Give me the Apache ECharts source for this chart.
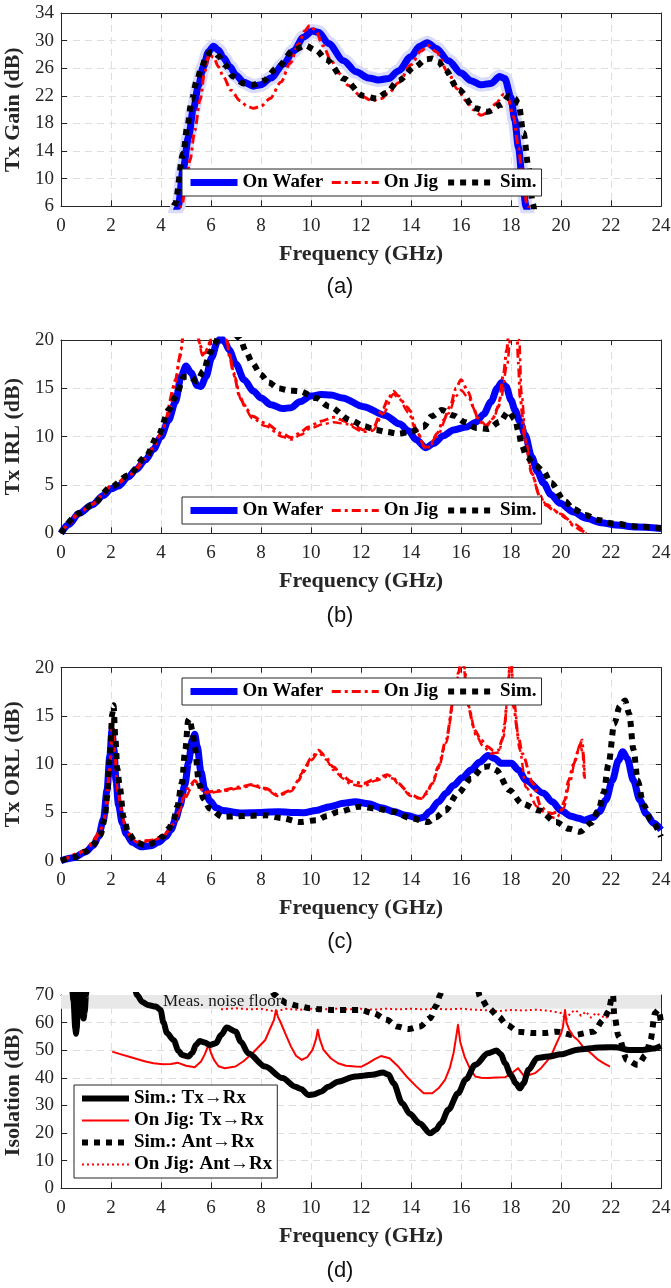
<!DOCTYPE html>
<html>
<head>
<meta charset="utf-8">
<script src="https://cdn.jsdelivr.net/npm/echarts/dist/echarts.min.js"></script>
<style>
  html, body { margin: 0; padding: 0; background: #ffffff; }
  #chart { width: 671px; height: 1288px; }
</style>
</head>
<body>
<div id="chart"></div>
<script>
// ---- Frequency axis ticks (GHz) ----
const freqTicks = { min: 0, max: 24, step: 2 };

// ---- (a) Tx Gain (dB) : [GHz, dB] ----
const gainWafer = [[4.3,1],[4.69,6],[4.89,11.5],[5.1,16],[5.29,20],[5.5,23.5],[5.69,26.2],[5.9,28.4],[6.1,29.2],[6.3,28.6],[6.5,27.5],[6.76,26.2],[7.0,25],[7.3,24],[7.7,23.4],[8.0,23.6],[8.4,24.6],[8.9,26.6],[9.3,28.5],[9.7,30.5],[10.05,31.4],[10.3,31.2],[10.7,29.6],[11.3,27.1],[11.8,25.5],[12.3,24.6],[12.7,24.3],[13.1,24.5],[13.5,25.6],[14.0,27.7],[14.35,29.2],[14.65,29.7],[15.0,28.9],[15.5,27.1],[16.0,25.3],[16.4,24.2],[16.8,23.6],[17.2,23.8],[17.55,24.8],[17.75,24.5],[18.0,21.8],[18.15,18.5],[18.3,14.5],[18.45,10],[18.6,6],[18.8,1]];
const gainJig = [[4.45,1],[4.83,6],[5.0,9.5],[5.16,12.7],[5.35,17],[5.56,21.4],[5.75,25.5],[5.92,28],[6.1,27.6],[6.3,26.2],[6.49,24.8],[6.8,22.8],[7.16,21.3],[7.45,20.5],[7.7,20.2],[8.0,20.5],[8.36,21.6],[8.8,24],[9.16,26.7],[9.5,29.5],[9.75,31.4],[9.95,32.2],[10.2,31.4],[10.47,29.3],[10.8,27.2],[11.1,25.3],[11.5,23.5],[11.96,22.1],[12.45,21.3],[12.8,21.6],[13.1,22.4],[13.5,23.9],[14.0,26.5],[14.4,28.5],[14.68,29.3],[15.0,28.4],[15.5,25.3],[15.85,23],[16.2,21.3],[16.5,20.0],[16.8,19.2],[17.1,19.6],[17.4,20.9],[17.7,22.2],[17.85,22],[18.1,19.0],[18.3,14.5],[18.44,10.8],[18.66,6],[18.9,1]];
const gainSim = [[4.2,1],[4.56,6.3],[4.89,13.7],[5.05,17.5],[5.23,21.4],[5.43,24.2],[5.63,26.2],[5.8,27.6],[5.96,28.3],[6.15,28.3],[6.29,27.8],[6.55,26.5],[6.89,24.8],[7.3,23.8],[7.7,23.6],[8.1,24.2],[8.63,26.0],[9.3,28.6],[9.76,29.3],[10.2,28.6],[10.63,27.2],[11.3,24.5],[12.09,22.0],[12.62,21.6],[13.0,22.4],[13.5,24.2],[14.16,26.2],[14.6,27.3],[14.85,27.4],[15.1,26.9],[15.36,25.8],[15.9,22.9],[16.56,20.2],[17.07,19.7],[17.6,20.7],[17.93,22.0],[18.15,21.6],[18.3,20.9],[18.5,16.6],[18.7,11.7],[18.87,6.4],[19.05,1]];

// ---- (b) Tx IRL (dB) ----
const irlWafer = [[0,0],[0.3,0.9],[0.73,2.07],[1.24,2.93],[1.7,3.9],[2.0,4.6],[2.3,4.9],[2.7,5.86],[3.0,6.6],[3.38,7.6],[3.7,8.7],[4.0,10.0],[4.3,11.7],[4.58,13.6],[4.8,16.2],[5.0,17.3],[5.2,16.6],[5.45,15.3],[5.6,15.2],[5.8,16.2],[6.03,18.2],[6.25,19.8],[6.4,20.2],[6.55,19.8],[6.72,19.0],[7.0,17.5],[7.32,15.9],[7.7,14.7],[8.0,14.0],[8.4,13.3],[8.86,12.9],[9.2,13.0],[9.55,13.6],[10.0,14.2],[10.4,14.35],[10.8,14.3],[11.26,14.0],[12.1,13.1],[12.97,12.2],[13.56,11.3],[13.9,10.6],[14.2,9.7],[14.6,8.85],[14.9,9.3],[15.3,10.1],[15.7,10.7],[16.23,11.0],[16.6,11.5],[16.9,12.3],[17.2,13.6],[17.45,15.0],[17.62,15.6],[17.8,15.2],[18.0,13.8],[18.16,12.75],[18.35,11.6],[18.56,10.2],[18.83,7.9],[19.05,6.4],[19.3,5.2],[19.6,4.0],[19.96,3.1],[20.5,2.2],[21.0,1.55],[21.6,1.1],[22.2,0.86],[23.0,0.65],[24,0.5]];
const irlJigA = [[0,0],[0.3,0.9],[0.73,2.1],[1.24,3.0],[1.7,4.1],[2.0,4.9],[2.3,5.2],[2.7,5.9],[3.0,6.6],[3.38,7.7],[3.7,8.9],[4.0,10.3],[4.3,12.3],[4.58,15.9],[4.75,18.2],[4.92,21],[5.05,23],[5.25,23],[5.45,21],[5.55,19.5],[5.7,18.6],[5.86,18.8],[6.0,20.5],[6.2,23],[6.45,22],[6.63,20],[6.75,18.2],[6.9,16.6],[7.15,14.1],[7.4,12.9],[7.66,12.1],[8.17,11.4],[8.86,10.3],[9.2,9.9],[9.5,10.3],[9.9,11.0],[10.4,11.6],[10.9,12.0],[11.43,11.55],[11.8,11.0],[12.1,10.7],[12.46,10.8],[12.88,12.9],[13.1,14.0],[13.3,14.7],[13.5,14.2],[13.83,13.1],[13.96,12.7],[14.2,10.8],[14.56,8.9],[14.8,9.2],[15.03,10.3],[15.3,11.7],[15.56,13.1],[15.8,15.0],[16.0,15.9],[16.3,14.6],[16.5,13.0],[16.7,11.7],[17.0,11.0],[17.25,11.8],[17.5,13.1],[17.7,16.5],[17.83,19.0],[17.95,22],[18.1,24],[18.23,21],[18.3,17.5],[18.36,14.1],[18.56,9.65],[18.83,6.2],[19.16,3.8],[19.4,2.9],[19.7,2.4],[20.0,1.9],[20.2,1.55],[20.5,0.8],[20.8,0.3],[21.0,0]];
const irlJigB = [[0,0],[0.73,2.1],[1.24,3.0],[2.0,4.9],[2.7,5.9],[3.38,7.7],[4.0,10.2],[4.58,15.6],[4.8,19],[4.95,22],[5.3,22],[5.5,20],[5.65,18.4],[5.9,19.2],[6.1,21.5],[6.5,21.5],[6.7,19],[6.95,16.2],[7.2,13.8],[7.66,11.9],[8.17,11.1],[8.86,10.0],[9.2,9.7],[9.6,10.2],[10.0,10.9],[10.5,11.3],[10.9,11.5],[11.4,11.3],[12.1,10.5],[12.46,10.6],[12.9,12.4],[13.3,14.4],[13.5,14.0],[13.9,12.5],[14.2,10.6],[14.6,8.7],[15.03,10.0],[15.5,12.4],[15.8,14.2],[16.0,14.8],[16.3,14.0],[16.7,11.9],[17.0,11.2],[17.3,11.9],[17.6,14.0],[17.85,17.5],[18.0,21],[18.2,24],[18.33,20],[18.42,14.5],[18.6,9.5],[18.85,6.0],[19.1,4.2],[19.4,3.0],[20.0,2.0],[20.5,1.0],[21.0,0]];
const irlSim = [[0,0],[0.73,2.07],[1.24,2.93],[2.0,4.8],[2.7,6.0],[3.38,7.9],[3.9,10.2],[4.32,12.8],[4.58,14.1],[4.92,16.2],[5.15,16.2],[5.44,15.7],[5.7,16.8],[5.95,18.6],[6.15,19.6],[6.3,20.3],[6.7,21.5],[7.15,20.2],[7.4,18.8],[7.66,17.6],[8.0,16.4],[8.3,15.6],[8.7,15.0],[9.1,14.8],[9.55,14.7],[10.2,14.0],[10.74,13.1],[11.6,11.7],[12.1,11.1],[12.6,10.7],[13.0,10.5],[13.48,10.3],[13.99,10.5],[14.49,11.0],[14.83,12.1],[15.23,12.75],[15.7,12.2],[16.16,11.5],[16.6,10.9],[17.07,10.8],[17.56,11.55],[17.9,12.6],[18.17,11.75],[18.3,10.5],[18.43,9.1],[18.63,7.9],[18.95,7.1],[19.3,6.4],[19.6,5.2],[20.16,3.3],[20.5,2.5],[20.96,1.9],[21.5,1.38],[22.0,1.03],[23.16,0.69],[24,0.5]];

// ---- (c) Tx ORL (dB) ----
const orlWafer = [[0,0],[0.5,0.3],[0.98,0.9],[1.3,1.6],[1.5,2.5],[1.7,4.3],[1.84,7.3],[1.95,10.8],[2.04,13.5],[2.12,11.5],[2.2,8.3],[2.3,5.8],[2.45,3.9],[2.61,2.8],[2.85,1.9],[3.21,1.45],[3.6,1.55],[3.9,1.9],[4.2,2.5],[4.4,3.2],[4.6,4.4],[4.75,5.6],[4.95,7.8],[5.1,10.2],[5.25,12.5],[5.35,13.1],[5.45,11.8],[5.6,9.2],[5.75,7.4],[5.95,6.2],[6.2,5.5],[6.46,5.2],[7.15,4.95],[8.0,5.0],[8.69,5.07],[9.2,5.0],[9.7,4.97],[10.2,5.2],[10.75,5.6],[11.3,5.95],[11.77,6.1],[12.3,5.9],[12.8,5.5],[13.3,5.1],[13.8,4.7],[14.3,4.4],[14.5,4.5],[14.75,5.1],[15.1,6.1],[15.4,7.0],[15.7,7.8],[16.05,8.6],[16.4,9.4],[16.74,10.2],[17.08,10.9],[17.35,10.6],[17.6,10.1],[18.02,10.1],[18.3,9.4],[18.6,8.3],[19.3,7.0],[19.65,6.1],[20.0,5.2],[20.4,4.6],[20.7,4.4],[20.93,4.2],[21.3,4.5],[21.53,5.07],[21.8,6.3],[22.05,8.3],[22.3,10.4],[22.47,11.3],[22.65,10.6],[22.9,8.3],[23.15,6.3],[23.4,4.9],[23.7,3.9],[24,3.2]];
const orlJigA = [[0,0],[0.5,0.4],[0.98,1.1],[1.3,2.0],[1.67,3.5],[1.85,5.8],[1.95,9.5],[2.06,14.6],[2.15,11.2],[2.27,7.3],[2.45,4.6],[2.61,3.2],[2.8,2.4],[3.04,2.0],[3.55,2.1],[4.07,2.5],[4.35,3.2],[4.58,4.2],[4.75,5.3],[4.92,6.6],[5.15,7.8],[5.35,8.3],[5.55,7.8],[5.78,7.1],[6.1,7.2],[6.46,7.3],[7.15,7.65],[7.66,7.9],[8.17,7.5],[8.69,6.8],[9.2,7.3],[9.5,8.3],[9.7,9.4],[10.0,10.6],[10.3,11.45],[10.55,10.9],[10.9,9.7],[11.25,8.8],[11.6,8.2],[12.1,8.0],[12.6,8.5],[13.05,8.9],[13.3,8.6],[13.48,8.0],[14.0,6.8],[14.4,6.45],[14.6,6.9],[14.85,8.0],[15.1,9.8],[15.4,12.5],[15.7,16.6],[15.9,19.5],[16.05,21.5],[16.15,19.5],[16.22,16.6],[16.56,13.5],[16.8,12.5],[17.07,11.8],[17.3,11.4],[17.5,11.45],[17.65,12.6],[17.75,14.2],[17.88,18.5],[18.0,21.5],[18.1,15.9],[18.3,12.8],[18.45,11.1],[18.88,8.0],[19.2,5.6],[19.45,5.0],[19.65,4.9],[20.0,5.2],[20.15,6.3],[20.3,8.3],[20.5,10.0],[20.7,11.45],[20.84,12.5],[20.93,8.7]];
const orlJigB = [[0,0],[0.98,1.0],[1.67,3.4],[1.95,9.2],[2.06,14.2],[2.15,11.0],[2.27,7.1],[2.61,3.1],[3.04,1.9],[3.55,2.0],[4.07,2.4],[4.58,4.1],[4.92,6.4],[5.35,8.1],[5.78,7.0],[6.46,7.2],[7.15,7.5],[7.66,7.8],[8.17,7.4],[8.69,6.7],[9.2,7.2],[9.7,9.2],[10.0,10.4],[10.3,11.2],[10.6,10.5],[10.9,9.4],[11.3,8.5],[11.6,7.9],[12.1,7.7],[12.6,8.3],[13.05,8.7],[13.3,8.5],[13.5,7.9],[14.0,6.7],[14.4,6.4],[14.85,7.9],[15.1,9.6],[15.4,12.2],[15.7,16.3],[15.9,19.2],[16.05,21.5],[16.2,19.2],[16.3,16.0],[16.6,13.0],[16.9,11.8],[17.2,11.1],[17.5,11.2],[17.7,12.8],[17.85,16.5],[17.98,21.5],[18.12,16.5],[18.35,11.5],[18.6,7.6],[19.05,5.6],[19.5,4.6],[19.8,4.4],[20.1,5.4],[20.35,8.0],[20.55,10.2],[20.75,12.0],[20.9,11.0],[20.95,8.5]];
const orlSim = [[0,0],[0.5,0.35],[0.98,0.93],[1.3,1.7],[1.58,2.65],[1.75,4.3],[1.84,6.6],[1.95,10.5],[2.05,15.2],[2.1,16.1],[2.18,12.5],[2.25,9.6],[2.35,7.65],[2.5,4.5],[2.7,2.8],[3.0,1.9],[3.38,1.6],[3.8,1.9],[4.07,2.5],[4.3,3.3],[4.5,4.2],[4.65,5.6],[4.83,8.0],[4.97,11.5],[5.09,14.55],[5.15,14.7],[5.25,13.5],[5.35,11.8],[5.52,8.0],[5.7,6.4],[5.95,5.4],[6.46,4.55],[7.0,4.6],[7.49,4.65],[8.17,4.7],[8.86,4.4],[9.54,4.0],[10.23,4.2],[10.6,4.6],[11.1,5.07],[11.94,5.6],[12.6,5.4],[13.3,5.07],[14.0,4.4],[14.68,4.0],[15.0,4.5],[15.37,5.2],[15.88,7.0],[16.4,8.5],[16.9,9.7],[17.15,9.8],[17.4,9.4],[17.94,7.3],[18.45,5.9],[19.13,5.2],[19.8,4.0],[20.33,3.3],[20.76,3.0],[21.2,3.9],[21.5,5.2],[21.7,7.0],[21.9,10],[22.13,14.2],[22.35,16.0],[22.56,16.6],[22.73,15.2],[22.9,11.5],[23.07,8.3],[23.3,5.8],[23.6,4.2],[24,2.5]];

// ---- (d) Isolation (dB) ----
const isoSimTxRx = [[0.4,80],[0.5,68],[0.57,58],[0.6,56],[0.63,58],[0.68,68],[0.75,80],[0.8,72],[0.86,64],[0.9,61.5],[0.95,64],[1.0,70],[1.05,76],[1.1,80],[2.8,80],[3.04,70],[3.25,67.5],[3.47,66.4],[3.8,65.8],[3.98,64.6],[4.1,60],[4.24,56.2],[4.5,53.7],[4.7,49.8],[4.84,48.3],[5.09,47.7],[5.25,49],[5.4,52],[5.55,53.3],[5.75,52.8],[5.95,51.9],[6.2,52.5],[6.4,55.5],[6.63,58.2],[6.98,56.8],[7.2,53],[7.49,48.9],[8.17,44.1],[8.86,39.9],[9.37,36.8],[9.6,36],[9.89,33.8],[10.1,34],[10.4,35.0],[10.7,36.8],[11.08,38.6],[11.77,40.5],[12.45,41.1],[12.88,41.9],[13.1,41.2],[13.3,38],[13.65,30.8],[13.95,27],[14.34,23.6],[14.77,19.9],[15.0,21.2],[15.2,23.6],[15.5,28.5],[15.88,34.4],[16.2,39.5],[16.57,44.7],[17.08,48.9],[17.42,49.9],[17.6,48.5],[17.76,45.3],[18.0,41],[18.19,38.0],[18.36,36.2],[18.5,38],[18.7,42.9],[19.05,47.2],[19.48,47.7],[20.0,48.5],[20.67,50.2],[21.53,51.0],[22.2,51.1],[22.73,50.1],[23.25,50.1],[23.7,50.6],[24,51.6]];
const isoJigTxRx = [[2.05,49.5],[2.4,48.5],[2.7,47.7],[3.0,46.9],[3.38,45.9],[3.7,45.3],[4.07,44.9],[4.4,45.0],[4.66,45.5],[5.0,44.4],[5.35,43.8],[5.6,45.9],[5.75,48.5],[5.9,51.9],[6.0,49],[6.12,46.5],[6.3,44.2],[6.55,43.5],[6.98,44.1],[7.3,46.0],[7.66,48.9],[8.17,53.7],[8.35,57.5],[8.52,61.0],[8.6,64.6],[8.68,62],[8.77,60.4],[9.0,55.5],[9.2,51.3],[9.4,48],[9.63,46.5],[9.85,47.5],[10.06,50.1],[10.2,54],[10.27,57.4],[10.35,54],[10.5,50.1],[10.8,47],[11.08,45.3],[11.4,44.4],[11.77,44.1],[12.0,44.0],[12.29,45.3],[12.55,46.8],[12.8,47.9],[13.14,47.1],[13.5,44.0],[13.82,40.5],[14.2,37.0],[14.51,34.4],[14.85,34.4],[15.1,36.2],[15.36,39.3],[15.55,43.5],[15.7,48.9],[15.8,54.5],[15.88,59.2],[15.97,53],[16.14,47.7],[16.35,43.5],[16.57,40.5],[16.8,40.0],[17.08,39.9],[17.4,40.1],[17.76,40.2],[18.0,41.5],[18.28,43.5],[18.53,40.5],[18.96,41.7],[19.2,43.5],[19.48,46.5],[19.65,49],[19.82,52.5],[20.0,56],[20.08,58.6],[20.16,64.6],[20.22,60],[20.33,57.4],[20.5,55],[20.67,53.7],[20.9,51],[21.2,48.9],[21.45,46.8],[21.7,45.3],[21.96,44.1]];
const isoSimAntRx = [[8.3,75],[8.55,70],[8.8,68.2],[9.03,67.0],[9.5,66],[9.96,65.2],[10.4,64.8],[10.9,64.6],[11.5,64.6],[11.96,64.6],[12.5,63.4],[13.03,61.0],[13.43,58.6],[13.9,57.7],[14.36,58.6],[14.76,61.6],[15.03,66.4],[15.16,70],[15.3,75],[16.6,75],[16.76,69.4],[17.1,65.2],[17.5,62.2],[17.83,59.2],[18.3,56.7],[18.9,56.2],[19.3,56.2],[19.83,56.7],[20.5,55.5],[21.3,56.7],[21.7,61.0],[21.9,64],[22.03,68.8],[22.08,70],[22.13,62.8],[22.3,55],[22.64,46.5],[23.07,44.7],[23.4,48.3],[23.58,53.7],[23.76,63.4],[23.9,64.6],[24,60]];
const isoJigAntRx = [[6.4,64.8],[7.0,65.2],[7.5,64.8],[8.0,65.0],[8.6,64.0],[9.0,65.0],[9.5,64.6],[10.0,65.0],[10.5,64.8],[11.0,65.0],[11.5,64.8],[12.0,65.0],[12.5,64.7],[13.0,65.0],[13.5,64.8],[14.0,65.0],[14.5,64.8],[15.0,65.0],[15.5,64.8],[16.0,65.0],[16.5,64.7],[17.0,64.5],[17.5,64.2],[18.0,64.6],[18.5,64.4],[19.0,64.7],[19.5,64.3],[20.0,63.5],[20.2,61],[20.4,63.8],[20.6,64.5],[20.8,62.5],[21.0,64],[21.2,61.8],[21.4,63.5],[21.6,62.5],[21.8,61.5],[22.0,64]];
const noiseFloor = { from: 65, to: 70, label: 'Meas. noise floor', at: [4.08, 67.6] };

// ---- Panel settings ----
const panels = [
  { top: 13,    height: 193.3, yName: 'Tx Gain (dB)',   yMin: 6, yMax: 34, yStep: 4,  caption: '(a)', captionY: 287 },
  { top: 340,   height: 193.3, yName: 'Tx IRL (dB)',    yMin: 0, yMax: 20, yStep: 5,  caption: '(b)', captionY: 616 },
  { top: 667.7, height: 193,   yName: 'Tx ORL (dB)',    yMin: 0, yMax: 20, yStep: 5,  caption: '(c)', captionY: 942 },
  { top: 995,   height: 193.3, yName: 'Isolation (dB)', yMin: 0, yMax: 70, yStep: 10, caption: '(d)', captionY: 1271 }
];

const SERIF = "Liberation Serif";
const SANS = "Liberation Sans";
const AXIS_COLOR = '#262626';
const GRID_COLOR = '#dedede';
const BLUE = '#0000ff', RED = '#ff0000', BLACK = '#000000';

const tickText = { color: AXIS_COLOR, fontFamily: SERIF, fontSize: 19, fontWeight: 'normal' };
const nameText = { color: AXIS_COLOR, fontFamily: SERIF, fontSize: 22, fontWeight: 'bold' };

// tick labels rendered through a rich-text style so the serif face is applied
function tickLabel(margin) {
  return {
    show: true, margin: margin, hideOverlap: false,
    color: AXIS_COLOR, fontFamily: SERIF, fontSize: 19,
    formatter: (v) => '{t|' + v + '}',
    rich: { t: tickText }
  };
}

const grids = [], xAxes = [], yAxes = [], graphics = [];
panels.forEach((p, i) => {
  grids.push({ left: 61, width: 600, top: p.top, height: p.height, containLabel: false, outerBoundsMode: 'none' });
  xAxes.push({
    type: 'value', gridIndex: i, position: 'bottom',
    min: freqTicks.min, max: freqTicks.max, interval: freqTicks.step,
    axisLine: { show: true, onZero: false, lineStyle: { color: AXIS_COLOR, width: 1 } },
    axisTick: { show: true, inside: true, length: 6, lineStyle: { color: AXIS_COLOR, width: 1 } },
    axisLabel: tickLabel(10),
    splitLine: { show: true, lineStyle: { color: GRID_COLOR, width: 1, type: [7, 5] } },
    name: 'Frequency (GHz)', nameLocation: 'middle', nameGap: 37,
    nameTextStyle: nameText
  });
  xAxes.push({
    type: 'value', gridIndex: i, position: 'top',
    min: freqTicks.min, max: freqTicks.max, interval: freqTicks.step,
    axisLine: { show: true, onZero: false, lineStyle: { color: AXIS_COLOR, width: 1 } },
    axisTick: { show: true, inside: true, length: 5, lineStyle: { color: AXIS_COLOR, width: 1 } },
    axisLabel: { show: false }, splitLine: { show: false }
  });
  yAxes.push({
    type: 'value', gridIndex: i, position: 'left',
    min: p.yMin, max: p.yMax, interval: p.yStep,
    axisLine: { show: true, onZero: false, lineStyle: { color: AXIS_COLOR, width: 1 } },
    axisTick: { show: true, inside: true, length: 6, lineStyle: { color: AXIS_COLOR, width: 1 } },
    axisLabel: tickLabel(7),
    splitLine: { show: true, lineStyle: { color: GRID_COLOR, width: 1, type: [7, 5] } },
    name: p.yName, nameLocation: 'middle', nameGap: 32,
    nameTextStyle: nameText
  });
  yAxes.push({
    type: 'value', gridIndex: i, position: 'right',
    min: p.yMin, max: p.yMax, interval: p.yStep,
    axisLine: { show: true, onZero: false, lineStyle: { color: AXIS_COLOR, width: 1 } },
    axisTick: { show: true, inside: true, length: 5, lineStyle: { color: AXIS_COLOR, width: 1 } },
    axisLabel: { show: false }, splitLine: { show: false }
  });
  graphics.push({
    type: 'text', x: 340, y: p.captionY, silent: true,
    style: { text: p.caption, fontFamily: SANS, fontSize: 22, fill: '#111111', align: 'center', verticalAlign: 'middle' }
  });
});

function line(name, panel, data, color, width, dash, extra) {
  return Object.assign({
    name: name, type: 'line', xAxisIndex: panel * 2, yAxisIndex: panel * 2,
    data: data, symbol: 'none', showSymbol: false, smooth: 0.3, smoothMonotone: 'x',
    clip: true, animation: false,
    lineStyle: { color: color, width: width, type: dash || 'solid', cap: 'butt', join: 'round' },
    itemStyle: { color: color },
    emphasis: { disabled: true }
  }, extra || {});
}

const DASHDOT = [9, 4, 3, 4];
const SQDOT = [6, 6];

const series = [
  // (a)
  line('On Wafer', 0, gainWafer, BLUE, 7, 'solid', { z: 3 }),
  line('On Wafer band', 0, gainWafer, '#d9dbfb', 14, 'solid', { z: 2 }),
  line('On Jig', 0, gainJig, RED, 3, DASHDOT, { z: 4 }),
  line('Sim.', 0, gainSim, BLACK, 6, SQDOT, { z: 5 }),
  // (b)
  line('On Wafer', 1, irlWafer, BLUE, 7, 'solid', { z: 3 }),
  line('On Jig', 1, irlJigA, RED, 3, DASHDOT, { z: 4 }),
  line('On Jig', 1, irlJigB, RED, 2.5, DASHDOT, { z: 4 }),
  line('Sim.', 1, irlSim, BLACK, 6, SQDOT, { z: 5 }),
  // (c)
  line('On Wafer', 2, orlWafer, BLUE, 7, 'solid', { z: 3 }),
  line('On Jig', 2, orlJigA, RED, 3, DASHDOT, { z: 4 }),
  line('On Jig', 2, orlJigB, RED, 2.5, DASHDOT, { z: 4 }),
  line('Sim.', 2, orlSim, BLACK, 6, SQDOT, { z: 5 }),
  // (d) noise floor band with its label
  {
    name: 'noise floor', type: 'line', xAxisIndex: 6, yAxisIndex: 6, data: [], z: 2, silent: true,
    markArea: {
      silent: true, itemStyle: { color: '#e8e8e8' },
      data: [[{ xAxis: freqTicks.min, yAxis: noiseFloor.from }, { xAxis: freqTicks.max, yAxis: noiseFloor.to }]]
    },
    markPoint: {
      silent: true, symbol: 'circle', symbolSize: 0,
      data: [{ coord: noiseFloor.at }],
      label: { show: true, position: 'right', distance: 0, formatter: noiseFloor.label,
               fontFamily: SERIF, fontSize: 17, color: '#1a1a1a' }
    }
  },
  line('Sim.: Tx\u2192Rx', 3, isoSimTxRx, BLACK, 6, 'solid', { z: 6 }),
  line('On Jig: Tx\u2192Rx', 3, isoJigTxRx, RED, 2, 'solid', { z: 5, smooth: false }),
  line('Sim.: Ant\u2192Rx', 3, isoSimAntRx, BLACK, 6, SQDOT, { z: 4 }),
  line('On Jig: Ant\u2192Rx', 3, isoJigAntRx, RED, 2, [2, 3], { z: 3, smooth: false })
];

const legendText = { fontFamily: SERIF, fontSize: 19, fontWeight: 'bold', color: '#000000' };
function legend(names, left, top, orient, gap) {
  return {
    data: names, left: left, top: top, orient: orient, z: 20,
    itemWidth: 47, itemHeight: 14, itemGap: gap,
    padding: [4, 5, 4, 5],
    backgroundColor: '#ffffff', borderColor: AXIS_COLOR, borderWidth: 1, borderRadius: 0,
    textStyle: legendText, selectedMode: false,
    lineStyle: { width: 'inherit', type: 'inherit' },
    itemStyle: { opacity: 0 }
  };
}
const mainNames = ['On Wafer', 'On Jig', 'Sim.'];
const isoNames = ['Sim.: Tx\u2192Rx', 'On Jig: Tx\u2192Rx', 'Sim.: Ant\u2192Rx', 'On Jig: Ant\u2192Rx'];

const option = {
  animation: false,
  backgroundColor: '#ffffff',
  textStyle: { fontFamily: SERIF },
  grid: grids,
  xAxis: xAxes,
  yAxis: yAxes,
  legend: [
    legend(mainNames, 182, 169, 'horizontal', 7),
    legend(mainNames, 182, 497, 'horizontal', 7),
    legend(mainNames, 182, 678, 'horizontal', 7),
    legend(isoNames, 74, 1085, 'vertical', 3)
  ],
  graphic: graphics,
  series: series
};

const chart = echarts.init(document.getElementById('chart'), null, { renderer: 'canvas' });
chart.setOption(option);
</script>
</body>
</html>
